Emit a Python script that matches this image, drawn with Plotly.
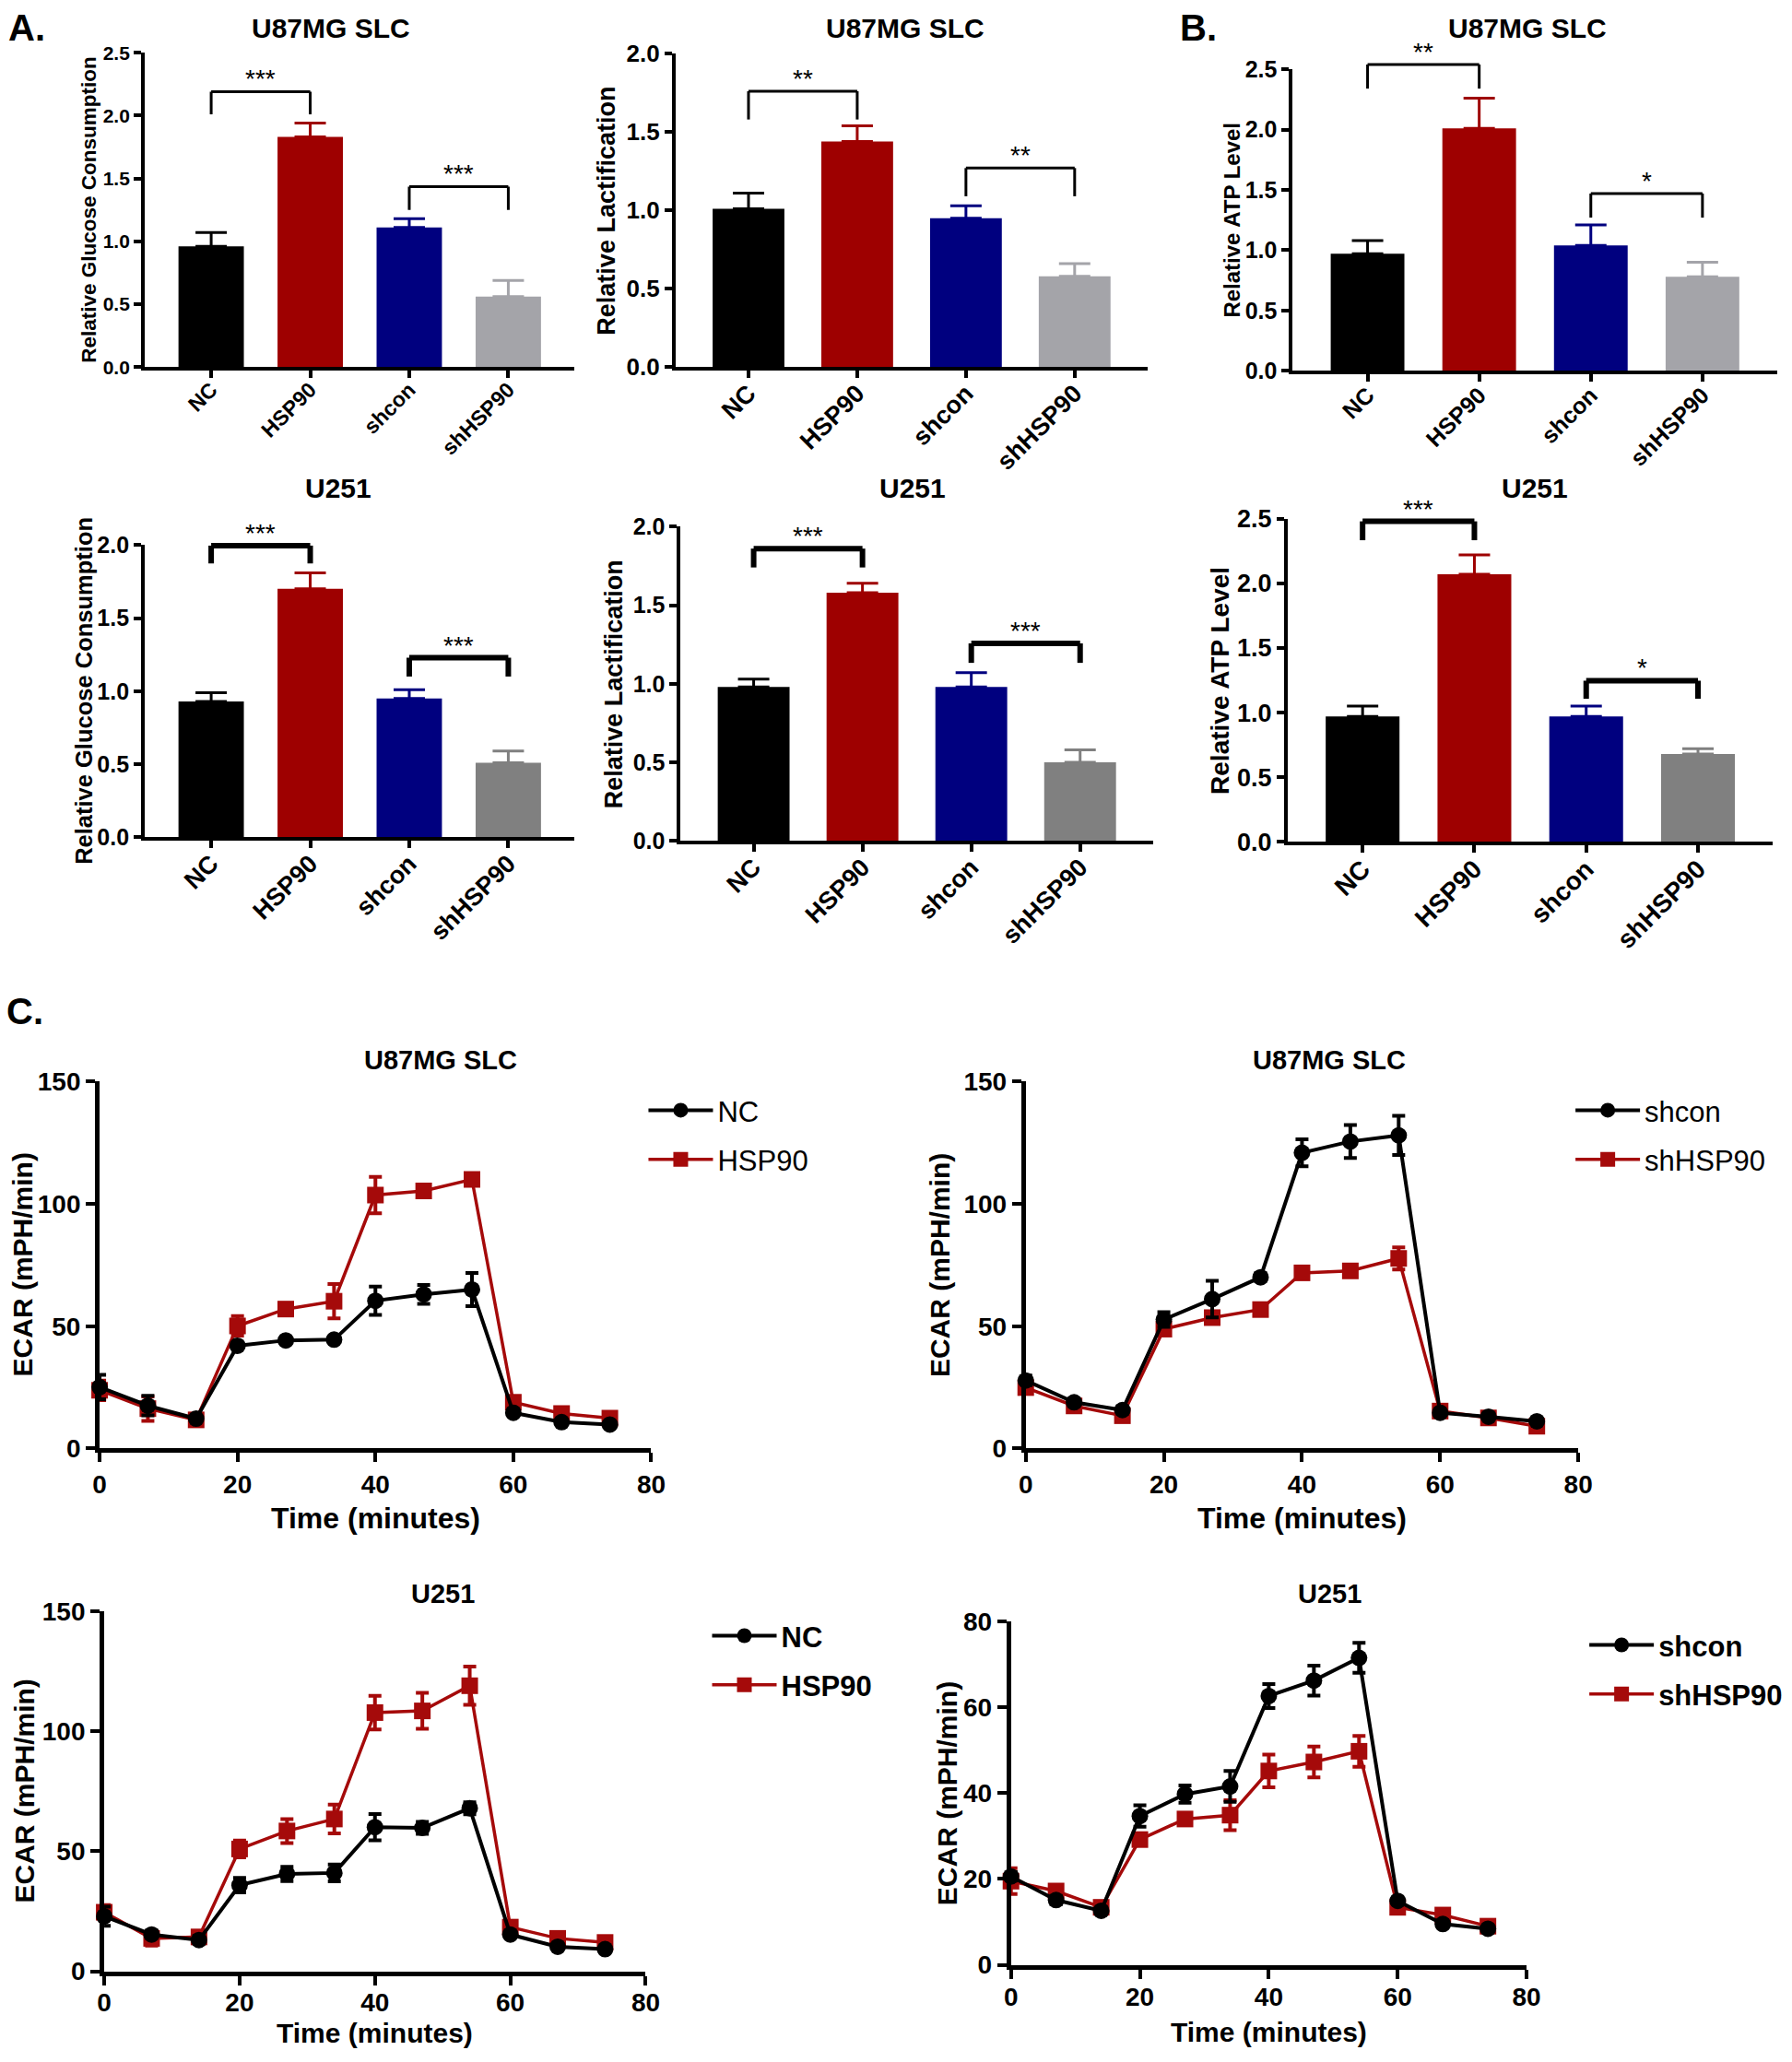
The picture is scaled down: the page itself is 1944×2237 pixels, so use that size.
import plotly.graph_objects as go

PAGE_W, PAGE_H = 1944, 2237
W, H = PAGE_W, PAGE_H
FONT = "Liberation Sans, Arial, Helvetica, sans-serif"

# measured mapping from page pixels to the photographed picture (picture = A + S * page)
AX, SX = 7.0, 0.987
AY, SY = 14.8, 0.986

# ---------------- data ----------------
categories = ["NC", "HSP90", "shcon", "shHSP90"]

glucose_u87 = [0.96, 1.83, 1.11, 0.56]
glucose_u87_err = [0.11, 0.11, 0.07, 0.13]
lactate_u87 = [1.01, 1.44, 0.95, 0.58]
lactate_u87_err = [0.10, 0.10, 0.08, 0.08]
atp_u87 = [0.97, 2.01, 1.04, 0.78]
atp_u87_err = [0.11, 0.25, 0.17, 0.12]

glucose_u251 = [0.93, 1.70, 0.95, 0.51]
glucose_u251_err = [0.06, 0.11, 0.06, 0.08]
lactate_u251 = [0.98, 1.58, 0.98, 0.50]
lactate_u251_err = [0.05, 0.06, 0.09, 0.08]
atp_u251 = [0.97, 2.07, 0.97, 0.68]
atp_u251_err = [0.08, 0.15, 0.08, 0.04]

# significance brackets: (group a, group b), label, bracket top, leg bottom
sig_pairs = [(0, 1), (2, 3)]
sig_glucose_u87 = ["***", "***"]
sig_glucose_u87_top = [2.19, 1.435]
sig_glucose_u87_leg = [2.01, 1.25]
sig_lactate_u87 = ["**", "**"]
sig_lactate_u87_top = [1.76, 1.27]
sig_lactate_u87_leg = [1.58, 1.09]
sig_atp_u87 = ["**", "*"]
sig_atp_u87_top = [2.54, 1.47]
sig_atp_u87_leg = [2.34, 1.27]
sig_glucose_u251 = ["***", "***"]
sig_glucose_u251_top = [1.996, 1.229]
sig_glucose_u251_leg = [1.874, 1.10]
sig_lactate_u251 = ["***", "***"]
sig_lactate_u251_top = [1.86, 1.257]
sig_lactate_u251_leg = [1.74, 1.133]
sig_atp_u251 = ["***", "*"]
sig_atp_u251_top = [2.48, 1.247]
sig_atp_u251_leg = [2.334, 1.107]

time_min = [0, 7, 14, 20, 27, 34, 40, 47, 54, 60, 67, 74]

ecar_u87_nc = [25.1, 17.5, 12.2, 42.0, 44.2, 44.5, 60.4, 63.0, 65.0, 14.6, 10.8, 9.8]
ecar_u87_nc_err = [5.0, 4.0, 1.0, 1.0, 1.0, 1.0, 5.8, 3.9, 6.8, 1.0, 1.0, 1.0]
ecar_u87_hsp90 = [23.8, 16.3, 11.7, 50.1, 57.0, 60.2, 103.6, 105.3, 110.0, 18.9, 14.3, 12.4]
ecar_u87_hsp90_err = [4.0, 5.0, 1.0, 4.0, 1.5, 7.0, 7.4, 2.0, 1.5, 1.0, 1.0, 1.0]

ecar_u87_shcon = [27.8, 18.9, 15.7, 52.7, 61.1, 70.0, 120.9, 125.5, 128.0, 14.6, 13.0, 11.1]
ecar_u87_shcon_err = [2.0, 1.5, 1.5, 3.0, 7.5, 1.5, 5.5, 6.7, 8.0, 1.0, 1.0, 1.0]
ecar_u87_shhsp90 = [24.9, 17.4, 13.4, 48.8, 53.5, 56.8, 71.8, 72.6, 77.7, 15.3, 12.5, 9.1]
ecar_u87_shhsp90_err = [1.5, 1.5, 1.5, 2.0, 2.0, 1.5, 2.0, 2.0, 4.5, 1.5, 1.5, 1.5]

ecar_u251_nc = [22.9, 15.3, 13.0, 35.9, 40.6, 41.0, 60.1, 59.8, 68.0, 15.3, 10.2, 9.2]
ecar_u251_nc_err = [4.0, 1.5, 1.5, 3.0, 3.0, 3.5, 5.5, 2.5, 2.5, 1.0, 1.0, 1.0]
ecar_u251_hsp90 = [24.6, 13.7, 14.3, 51.0, 58.5, 63.5, 107.9, 108.6, 119.1, 18.4, 13.7, 12.0]
ecar_u251_hsp90_err = [3.0, 3.0, 2.0, 3.5, 5.0, 6.0, 7.0, 7.5, 8.0, 1.5, 1.5, 1.5]

ecar_u251_shcon = [20.6, 15.1, 12.6, 34.7, 39.8, 41.6, 62.7, 66.3, 71.6, 14.9, 9.5, 8.4]
ecar_u251_shcon_err = [1.0, 1.0, 0.8, 2.5, 2.0, 3.6, 2.8, 3.5, 3.5, 0.8, 0.8, 0.8]
ecar_u251_shhsp90 = [19.5, 17.2, 13.4, 29.2, 34.0, 34.9, 45.2, 47.3, 49.8, 13.4, 11.6, 9.0]
ecar_u251_shhsp90_err = [3.0, 1.0, 1.0, 1.0, 1.0, 3.5, 3.8, 3.6, 3.6, 1.0, 1.0, 1.0]

# ---------------- styles ----------------
BLACK = "#000000"
RED = "#9E0000"
NAVY = "#00007F"
GRAY_LIGHT = "#A4A4A9"
GRAY_DARK = "#808080"
LINE_RED = "#A50A0A"

XR = [-0.67, 3.67]


def fx(t):
    """target picture x -> paper fraction"""
    page = (t - AX) / SX
    return min(max(page / W, 0.0), 1.0)


def fy(t):
    """target picture y -> paper fraction"""
    page = (t - AY) / SY
    return min(max(1 - page / H, 0.0), 1.0)


bar_panels = [
    dict(title="U87MG SLC", ytitle="Relative Glucose Consumption", vals=glucose_u87, errs=glucose_u87_err,
         ymax=2.5, labels=sig_glucose_u87, tops=sig_glucose_u87_top, legs=sig_glucose_u87_leg,
         box=(156, 622, 57, 398), gray=GRAY_LIGHT, tfs=21, cfs=23, yfs=22.5, ytx=96, tt=(358, 30), bw=3),
    dict(title="U87MG SLC", ytitle="Relative Lactification", vals=lactate_u87, errs=lactate_u87_err,
         ymax=2.0, labels=sig_lactate_u87, tops=sig_lactate_u87_top, legs=sig_lactate_u87_leg,
         box=(731.5, 1243, 58, 398), gray=GRAY_LIGHT, tfs=26, cfs=27, yfs=27, ytx=657, tt=(980, 30), bw=3),
    dict(title="U87MG SLC", ytitle="Relative ATP Level", vals=atp_u87, errs=atp_u87_err,
         ymax=2.5, labels=sig_atp_u87, tops=sig_atp_u87_top, legs=sig_atp_u87_leg,
         box=(1400.5, 1943, 75, 402), gray=GRAY_LIGHT, tfs=25, cfs=25, yfs=24, ytx=1335, tt=(1655, 30), bw=3),
    dict(title="U251", ytitle="Relative Glucose Consumption", vals=glucose_u251, errs=glucose_u251_err,
         ymax=2.0, labels=sig_glucose_u251, tops=sig_glucose_u251_top, legs=sig_glucose_u251_leg,
         box=(156, 622, 591, 908), gray=GRAY_DARK, tfs=25, cfs=27, yfs=25.5, ytx=90, tt=(366, 529), bw=6),
    dict(title="U251", ytitle="Relative Lactification", vals=lactate_u251, errs=lactate_u251_err,
         ymax=2.0, labels=sig_lactate_u251, tops=sig_lactate_u251_top, legs=sig_lactate_u251_leg,
         box=(737, 1249, 571, 912), gray=GRAY_DARK, tfs=25, cfs=27, yfs=27, ytx=664, tt=(988, 529), bw=6),
    dict(title="U251", ytitle="Relative ATP Level", vals=atp_u251, errs=atp_u251_err,
         ymax=2.5, labels=sig_atp_u251, tops=sig_atp_u251_top, legs=sig_atp_u251_leg,
         box=(1395, 1921, 562.5, 913), gray=GRAY_DARK, tfs=27, cfs=28, yfs=28, ytx=1321, tt=(1663, 529), bw=6),
]

# leg = (legend left, first-row centre) in picture pixels
line_panels = [
    dict(title="U87MG SLC", series=[("NC", ecar_u87_nc, ecar_u87_nc_err), ("HSP90", ecar_u87_hsp90, ecar_u87_hsp90_err)],
         ymax=150, dtick=50, box=(107, 705, 1173, 1571), tt=(477, 1150), ytx=23, xty=1647, xtfs=32, stand=0,
         leg=(697, 1205), legbold=False),
    dict(title="U87MG SLC", series=[("shcon", ecar_u87_shcon, ecar_u87_shcon_err), ("shHSP90", ecar_u87_shhsp90, ecar_u87_shhsp90_err)],
         ymax=150, dtick=50, box=(1111, 1710, 1173, 1571), tt=(1440, 1150), ytx=1018, xty=1647, xtfs=32, stand=0,
         leg=(1702, 1205), legbold=False),
    dict(title="U251", series=[("NC", ecar_u251_nc, ecar_u251_nc_err), ("HSP90", ecar_u251_hsp90, ecar_u251_hsp90_err)],
         ymax=150, dtick=50, box=(112, 699, 1748, 2138), tt=(479, 1729), ytx=25, xty=2205, xtfs=30, stand=-5,
         leg=(766, 1775), legbold=True),
    dict(title="U251", series=[("shcon", ecar_u251_shcon, ecar_u251_shcon_err), ("shHSP90", ecar_u251_shhsp90, ecar_u251_shhsp90_err)],
         ymax=80, dtick=20, box=(1095, 1654, 1759, 2131), tt=(1441, 1729), ytx=1026, xty=2204, xtfs=30, stand=-4,
         leg=(1717, 1785), legbold=True),
]


def axid(letter, i):
    return letter if i == 1 else f"{letter}{i}"


fig = go.Figure()
layout = dict(
    width=W, height=H, autosize=False, margin=dict(l=0, r=0, t=0, b=0, pad=0),
    paper_bgcolor="white", plot_bgcolor="white",
    barmode="overlay", showlegend=True,
    font=dict(family=FONT, color="black"),
)
annotations = []
shapes = []


def ann(text, x, y, size, bold=True, angle=0, xanchor="center", yanchor="middle"):
    annotations.append(dict(
        text=text, x=fx(x), y=fy(y), xref="paper", yref="paper", showarrow=False, textangle=angle,
        xanchor=xanchor, yanchor=yanchor,
        font=dict(family=FONT, size=size, color="black", weight="bold" if bold else "normal"),
    ))


# ---------------- bar panels ----------------
for i, p in enumerate(bar_panels, start=1):
    x0, x1, yt, yb = p["box"]
    colors = [BLACK, RED, NAVY, p["gray"]]
    xa, ya = axid("x", i), axid("y", i)
    for j, cat in enumerate(categories):
        fig.add_trace(go.Bar(
            x=[cat], y=[p["vals"][j]], xaxis=xa, yaxis=ya, width=0.66, showlegend=False,
            marker=dict(color=colors[j], line=dict(width=0)),
            error_y=dict(type="data", array=[p["errs"][j]], arrayminus=[0], symmetric=False,
                         color=colors[j], thickness=3, width=17),
        ))
    axis_common = dict(showline=True, linewidth=4, linecolor="black", ticks="outside", ticklen=8,
                       tickwidth=4, tickcolor="black", showgrid=False, zeroline=False, fixedrange=True)
    layout[f"xaxis{i}"] = dict(
        domain=[fx(x0), fx(x1)], anchor=ya, type="category", categoryorder="array",
        categoryarray=categories, range=XR, tickangle=-45, ticklabelstandoff=-10,
        tickfont=dict(family=FONT, size=p["cfs"], color="black", weight="bold"), **axis_common)
    layout[f"yaxis{i}"] = dict(
        domain=[fy(yb), fy(yt)], anchor=xa, range=[0, p["ymax"]], dtick=0.5, tickformat=".1f",
        tickfont=dict(family=FONT, size=p["tfs"], color="black", weight="bold"), **axis_common)
    ann(p["title"], p["tt"][0], p["tt"][1], 30)
    ann(p["ytitle"], p["ytx"], (yt + yb) / 2, p["yfs"], angle=-90)
    for (a, b), lab, top, leg in zip(sig_pairs, p["labels"], p["tops"], p["legs"]):
        fa = (a - XR[0]) / (XR[1] - XR[0])
        fb = (b - XR[0]) / (XR[1] - XR[0])
        ft = top / p["ymax"]
        fl = leg / p["ymax"]
        ln = dict(color="black", width=p["bw"])
        for (u0, v0, u1, v1) in [(fa, fl, fa, ft), (fa, ft, fb, ft), (fb, ft, fb, fl)]:
            shapes.append(dict(type="line", xref=f"{xa} domain", yref=f"{ya} domain",
                               x0=u0, y0=v0, x1=u1, y1=v1, line=ln, layer="above"))
        annotations.append(dict(
            text=lab, x=(fa + fb) / 2, y=ft, xref=f"{xa} domain", yref=f"{ya} domain",
            showarrow=False, xanchor="center", yanchor="bottom", yshift=-4,
            font=dict(family=FONT, size=28, color="black"),
        ))

# ---------------- line panels ----------------
ITEMW = 70
for k, p in enumerate(line_panels):
    i = 7 + k
    x0, x1, yt, yb = p["box"]
    xa, ya = axid("x", i), axid("y", i)
    legname = "legend" if k == 0 else f"legend{k + 1}"
    styles = [(BLACK, "circle", 4), (LINE_RED, "square", 3.5)]
    for s in [1, 0]:
        name, vals, errs = p["series"][s]
        col, sym, lw = styles[s]
        fig.add_trace(go.Scatter(
            x=time_min, y=vals, name=name, mode="lines+markers", xaxis=xa, yaxis=ya,
            line=dict(color=col, width=lw), marker=dict(color=col, symbol=sym, size=18),
            error_y=dict(type="data", array=errs, color=col, thickness=4, width=7),
            cliponaxis=False, legend=legname, legendgroup=f"{legname}_{s}", legendrank=s + 1,
        ))
    axis_common = dict(showline=True, linewidth=5, linecolor="black", ticks="outside", ticklen=10,
                       tickwidth=4, tickcolor="black", showgrid=False, zeroline=False, fixedrange=True,
                       tickfont=dict(family=FONT, size=28, color="black", weight="bold"))
    layout[f"xaxis{i}"] = dict(domain=[fx(x0), fx(x1)], anchor=ya, range=[0, 80], dtick=20,
                               ticklabelstandoff=p["stand"], **axis_common)
    layout[f"yaxis{i}"] = dict(domain=[fy(yb), fy(yt)], anchor=xa, range=[0, p["ymax"]],
                               dtick=p["dtick"], **axis_common)
    ann(p["title"], p["tt"][0], p["tt"][1], 29)
    ann("ECAR (mPH/min)", p["ytx"], (yt + yb) / 2, 30, angle=-90)
    ann("Time (minutes)", (x0 + x1) / 2, p["xty"], p["xtfs"])
    layout[legname] = dict(
        x=fx(p["leg"][0]), y=fy(p["leg"][1] - 27.6), xanchor="left", yanchor="top",
        bgcolor="rgba(0,0,0,0)", borderwidth=0, itemwidth=ITEMW, tracegroupgap=10,
        font=dict(family=FONT, size=31, color="black", weight="bold" if p["legbold"] else "normal"),
    )

ann("A.", 28, 30, 40)
ann("B.", 1298, 30, 40)
ann("C.", 26, 1097, 40)

layout["annotations"] = annotations
layout["shapes"] = shapes
fig.update_layout(**layout)

fig.write_html("out.html", config={"displayModeBar": False},
               post_script="document.body.style.margin='0';")
